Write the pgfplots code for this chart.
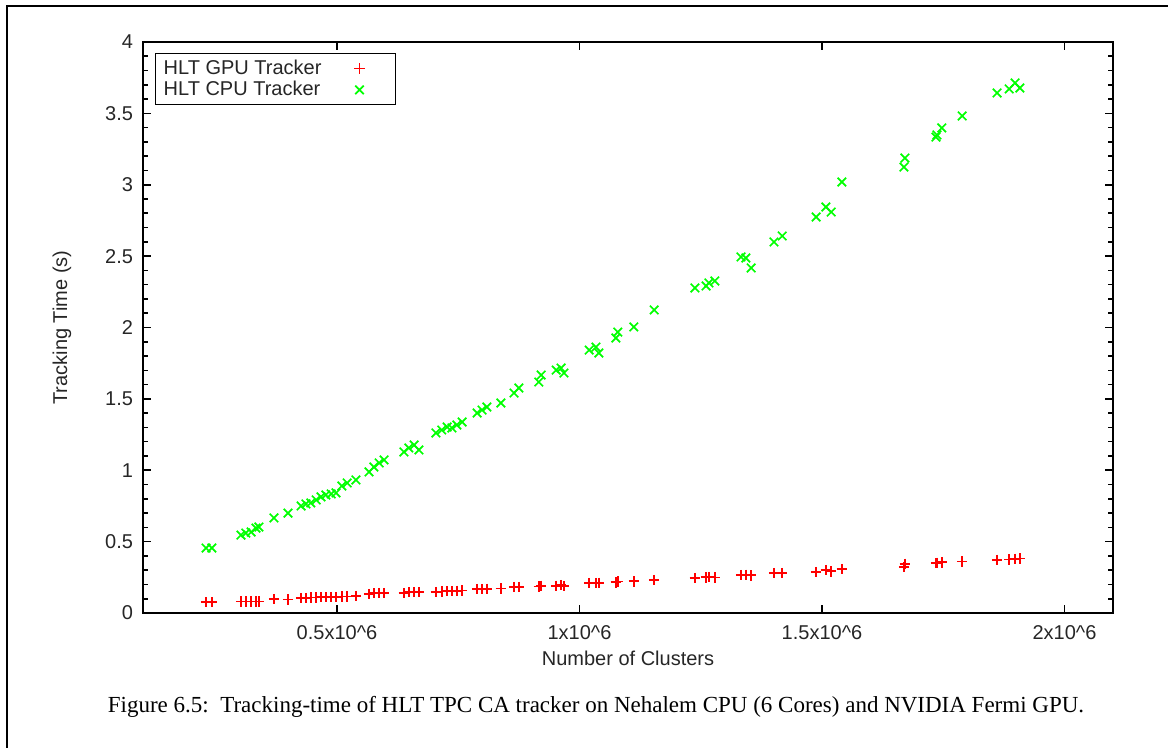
\documentclass[border=0pt]{standalone}
\usepackage{pgfplots}
\pgfplotsset{compat=1.18}
\usepackage{fontspec}
\setmainfont{Liberation Sans}
\newfontfamily\capfont{Liberation Serif}
\definecolor{gpured}{RGB}{255,0,0}
\definecolor{cpugreen}{RGB}{0,255,0}
\begin{document}
\begin{tikzpicture}
\useasboundingbox (0,0) rectangle (584pt,374pt);
\draw[line width=1pt] (3.5pt,0) -- (3.5pt,371pt) -- (584pt,371pt);
\begin{axis}[
  at={(71.5pt,67.5pt)}, anchor=south west,
  scale only axis, width=485pt, height=285.5pt,
  xmin=100000, xmax=2100000, ymin=0, ymax=4,
  xtick={500000,1000000,1500000,2000000},
  xticklabels={0.5x10\textasciicircum 6,1x10\textasciicircum 6,1.5x10\textasciicircum 6,2x10\textasciicircum 6},
  ytick={0,0.5,1,1.5,2,2.5,3,3.5,4},
  yticklabels={0,0.5,1,1.5,2,2.5,3,3.5,4},
  minor y tick num=4,
  /pgf/number format/assume math mode=true,
  scaled x ticks=false,
  tick align=inside,
  major tick length=4pt, minor tick length=2.5pt,
  axis line style={line width=0.9pt},
  every tick/.style={black, line width=0.8pt},
  tick label style={font=\fontsize{10}{11}\selectfont, text=black!85},
  xticklabel style={yshift=-2.5pt},
  yticklabel style={xshift=-1.5pt},
  label style={font=\fontsize{10}{11}\selectfont, text=black!85},
  xlabel={Number of Clusters},
  ylabel={Tracking Time (s)},
  xlabel style={at={(axis description cs:0.5,-0.0788)}, anchor=center},
  ylabel style={at={(axis description cs:-0.0835,0.5)}, anchor=center},
  legend plot pos=right,
  legend cell align=left,
  legend image code/.code={\path[draw=none] (0pt,0pt) -- (33pt,0pt); \draw[#1, only marks] plot coordinates {(17pt,0pt)};},
  legend style={at={(axis description cs:0,1)}, anchor=north west, xshift=6pt, yshift=-5.5pt,
    draw=black, line width=0.7pt, font=\fontsize{10}{11}\selectfont, text=black!85,
    row sep=-2pt, inner xsep=2pt, inner ysep=1pt, column sep=0pt},
]
\addplot[only marks, mark=+, gpured, mark size=2.6pt, mark options={line width=0.85pt}] coordinates {
(230000,0.075) (242000,0.075) (302000,0.08) (312000,0.08) (323000,0.08) (333000,0.08) (339000,0.08)
(370000,0.098) (399000,0.095) (426000,0.105) (436000,0.105) (446000,0.108) (457000,0.108) (467000,0.11)
(477000,0.11) (488000,0.112) (498000,0.112) (510000,0.115) (521000,0.115) (539000,0.118) (566000,0.133)
(576000,0.138) (587000,0.14) (597000,0.14) (638000,0.14) (648000,0.145) (659000,0.145) (669000,0.145)
(704000,0.147) (716000,0.15) (727000,0.152) (737000,0.152) (747000,0.155) (758000,0.158) (789000,0.168)
(799000,0.168) (809000,0.17) (838000,0.172) (865000,0.182) (875000,0.182) (916000,0.185) (921000,0.19)
(952000,0.19) (962000,0.195) (968000,0.19) (1020000,0.21) (1034000,0.21) (1040000,0.212) (1075000,0.215)
(1079000,0.22) (1112000,0.222) (1154000,0.231) (1238000,0.245) (1261000,0.25) (1267000,0.252) (1279000,0.248)
(1333000,0.266) (1343000,0.268) (1354000,0.264) (1401000,0.28) (1418000,0.28) (1488000,0.287) (1508000,0.30)
(1519000,0.292) (1541000,0.308) (1669000,0.322) (1671000,0.345) (1735000,0.35) (1737000,0.352) (1747000,0.355)
(1789000,0.36) (1861000,0.372) (1886000,0.375) (1898000,0.38) (1908000,0.382)
};
\addlegendentry{HLT GPU Tracker}
\addplot[only marks, mark=x, cpugreen, mark size=3pt, mark options={line width=0.85pt}] coordinates {
(230000,0.455) (242000,0.455) (302000,0.546) (312000,0.560) (323000,0.567) (333000,0.595) (339000,0.602)
(370000,0.666) (399000,0.700) (426000,0.750) (436000,0.764) (446000,0.771) (457000,0.792) (467000,0.813)
(477000,0.827) (488000,0.834) (498000,0.841) (510000,0.890) (521000,0.911) (539000,0.932) (566000,0.988)
(576000,1.023) (587000,1.051) (597000,1.072) (638000,1.128) (648000,1.156) (659000,1.177) (669000,1.142)
(704000,1.261) (716000,1.282) (727000,1.303) (737000,1.296) (747000,1.317) (758000,1.338) (789000,1.401)
(799000,1.422) (809000,1.443) (838000,1.471) (865000,1.541) (875000,1.576) (916000,1.618) (921000,1.667)
(952000,1.702) (962000,1.716) (968000,1.681) (1020000,1.842) (1034000,1.863) (1040000,1.821) (1075000,1.926)
(1079000,1.968) (1112000,2.004) (1154000,2.123) (1238000,2.277) (1261000,2.291) (1267000,2.312) (1279000,2.326)
(1333000,2.494) (1343000,2.487) (1354000,2.417) (1401000,2.599) (1418000,2.641) (1488000,2.774) (1508000,2.844)
(1519000,2.809) (1541000,3.019) (1669000,3.124) (1671000,3.187) (1735000,3.334) (1737000,3.349) (1747000,3.398)
(1789000,3.482) (1861000,3.643) (1886000,3.671) (1898000,3.713) (1908000,3.678)
};
\addlegendentry{HLT CPU Tracker}
\end{axis}
\node[font=\capfont\fontsize{11.5}{13}\selectfont, anchor=center] at (298pt,20.5pt)
  {Figure 6.5:\ \ Tracking-time of HLT TPC CA tracker on Nehalem CPU (6 Cores) and NVIDIA Fermi GPU.};
\end{tikzpicture}
\end{document}
